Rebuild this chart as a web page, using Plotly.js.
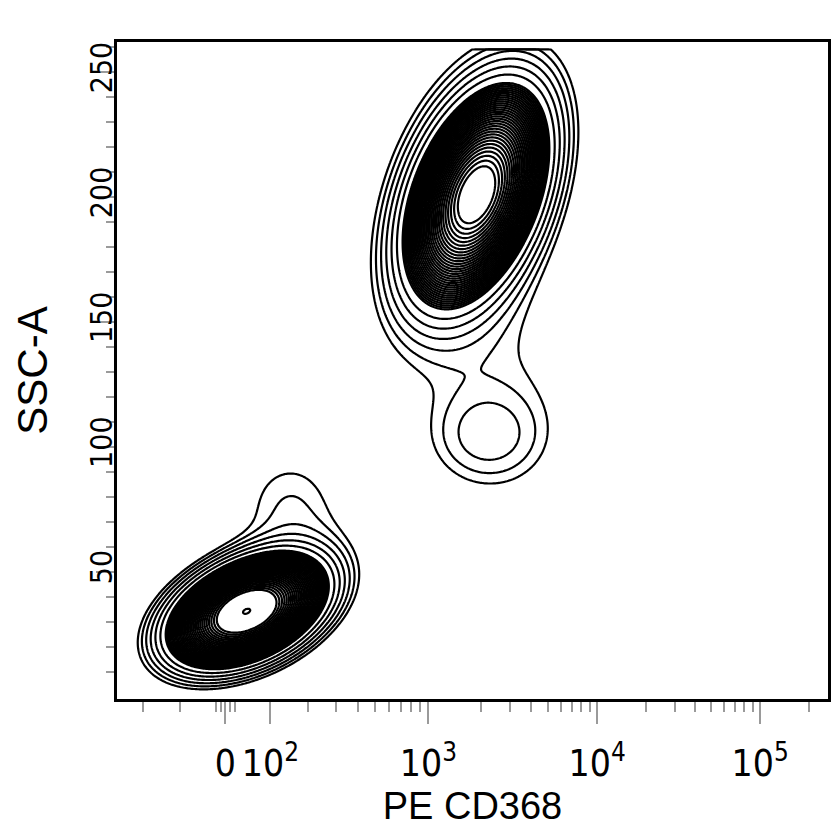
<!DOCTYPE html>
<html>
<head>
<meta charset="utf-8">
<script src="https://cdn.plot.ly/plotly-3.0.1.min.js"></script>
<style>
  html, body { margin: 0; padding: 0; background: #ffffff; }
  #chart { width: 837px; height: 837px; }
</style>
</head>
<body>
<div id="chart"></div>
<script>
// ---- Data: cell populations as a Gaussian mixture ----
const compName   = ['lowCore', 'lowSkirt', 'lowTail', 'upCore', 'upSkirt', 'bridge', 'midPop'];
const compPE     = [45,    100,   150,   1900,  1760,  2500,  2200];   // PE CD368 intensity
const compSSC    = [34,    42,    76,    201,   198,   122,   104];    // SSC-A (x1000)
const compSdDec  = [0.22,  0.26,  0.22,  0.20,  0.28,  0.34,  0.22];   // spread (decades, display scale)
const compSdSSC  = [10.2,  14,    16,    19.7,  30,    30,    12];     // spread (SSC units)
const compRho    = [0.40,  0.40,  0,     0.42,  0.35,  0,     0];
const compWeight = [1,     0.03,  0.014, 0.78,  0.07,  0.010, 0.018];

// Axis values and labels
const xMajorVals = [0, 100, 1000, 10000, 100000];
const xMajorText = ['0', '10<sup>2</sup>', '10<sup>3</sup>', '10<sup>4</sup>', '10<sup>5</sup>'];
const xMinorVals = [-300, -200, -100, -20, -10, 10, 20, 200, 300, 400, 500, 600, 700, 800, 900,
                    2000, 3000, 4000, 5000, 6000, 7000, 8000, 9000,
                    20000, 30000, 40000, 50000, 60000, 70000, 80000, 90000, 200000];
const xLimits    = [-290, 262144];
const yMajorVals = [50, 100, 150, 200, 250];
const yMajorText = ['50', '100', '150', '200', '250'];
const yMinorVals = [10, 20, 30, 40, 60, 70, 80, 90, 110, 120, 130, 140, 160, 170, 180, 190, 210, 220, 230, 240, 260];
const yLimits    = [-1, 262];
const sscCeiling = 259;   // SSC-A scale saturates at the top

// ---- Logicle (biexponential) display transform ----
const LA = 50, LP = 2;
function logicleS(u) {
  const s = u < 0 ? -1 : 1, x = Math.abs(u);
  return s * LA * (Math.pow(10, x) - LP * LP * Math.pow(10, -x / LP) + LP * LP - 1);
}
function logicleU(v) {
  let lo = -8, hi = 8;
  for (let i = 0; i < 80; i++) {
    const m = (lo + hi) / 2;
    if (logicleS(m) < v) lo = m; else hi = m;
  }
  return (lo + hi) / 2;
}

const cU = compPE.map(logicleU);
function density(u, s) {
  let d = 0;
  for (let i = 0; i < compPE.length; i++) {
    const a = (u - cU[i]) / compSdDec[i];
    const b = (s - compSSC[i]) / compSdSSC[i];
    const r = compRho[i];
    const q = (a * a - 2 * r * a * b + b * b) / (1 - r * r);
    d += compWeight[i] * Math.exp(-0.5 * q);
  }
  return d;
}

const uMin = logicleU(xLimits[0]), uMax = logicleU(xLimits[1]);
const gx = [], gy = [];
for (let u = uMin - 0.05; u <= uMax + 0.05; u += 0.008) gx.push(u);
for (let s = -5; s <= sscCeiling; s += 0.5) gy.push(s);
gy.push(sscCeiling + 3);
const gz = gy.map(s => gx.map(u => s > sscCeiling ? -10 : Math.log10(density(u, s) + 1e-10)));

const lineStyle = { color: '#000000', width: 2.2, smoothing: 0 };
const traces = [
  { type: 'contour', x: gx, y: gy, z: gz, autocontour: false,
    contours: { coloring: 'none', start: -2.0, end: -1.1, size: 0.15 },
    line: lineStyle, showscale: false, hoverinfo: 'skip' },
  { type: 'contour', x: gx, y: gy, z: gz, autocontour: false,
    contours: { coloring: 'none', start: -1.07, end: -0.13, size: 0.03 },
    line: lineStyle, showscale: false, hoverinfo: 'skip' },
  { type: 'contour', x: gx, y: gy, z: gz, autocontour: false,
    contours: { coloring: 'none', start: 0.008, end: 0.008, size: 1 },
    line: lineStyle, showscale: false, hoverinfo: 'skip' }
];

const tickFont = { family: 'DejaVu Sans Condensed, Liberation Sans Narrow, Arial Narrow, Arial', color: '#000000' };
const layout = {
  width: 837, height: 837,
  margin: { l: 117, r: 9, t: 42, b: 138 },
  paper_bgcolor: '#ffffff', plot_bgcolor: '#ffffff',
  showlegend: false,
  xaxis: {
    range: [uMin, uMax], tickmode: 'array',
    tickvals: xMajorVals.map(logicleU), ticktext: xMajorText,
    ticks: 'outside', ticklen: 22, tickwidth: 2, tickcolor: '#9a9a9a',
    minor: { tickmode: 'array', tickvals: xMinorVals.map(logicleU), ticks: 'outside', ticklen: 10, tickwidth: 2, tickcolor: '#9a9a9a', showgrid: false },
    showgrid: false, zeroline: false, showline: true, linecolor: '#000000', linewidth: 3, mirror: true,
    tickfont: Object.assign({ size: 37 }, tickFont),
    ticklabelstandoff: 8,
    title: { text: 'PE CD368', font: { family: 'Liberation Sans, Arial', size: 38, color: '#000000' }, standoff: 0 },
    fixedrange: true
  },
  yaxis: {
    range: yLimits, tickmode: 'array', tickvals: yMajorVals, ticktext: yMajorText, tickangle: -90,
    ticks: 'outside', ticklen: 18, tickwidth: 2, tickcolor: '#9a9a9a',
    minor: { tickmode: 'array', tickvals: yMinorVals, ticks: 'outside', ticklen: 8, tickwidth: 2, tickcolor: '#9a9a9a', showgrid: false },
    showgrid: false, zeroline: false, showline: true, linecolor: '#000000', linewidth: 3, mirror: true,
    tickfont: Object.assign({ size: 30 }, tickFont),
    ticklabelstandoff: -28,
    title: { text: 'SSC-A', font: { family: 'Liberation Sans, Arial', size: 42, color: '#000000' }, standoff: 24 },
    fixedrange: true
  }
};

Plotly.newPlot('chart', traces, layout, { staticPlot: true, displayModeBar: false });
</script>
</body>
</html>
